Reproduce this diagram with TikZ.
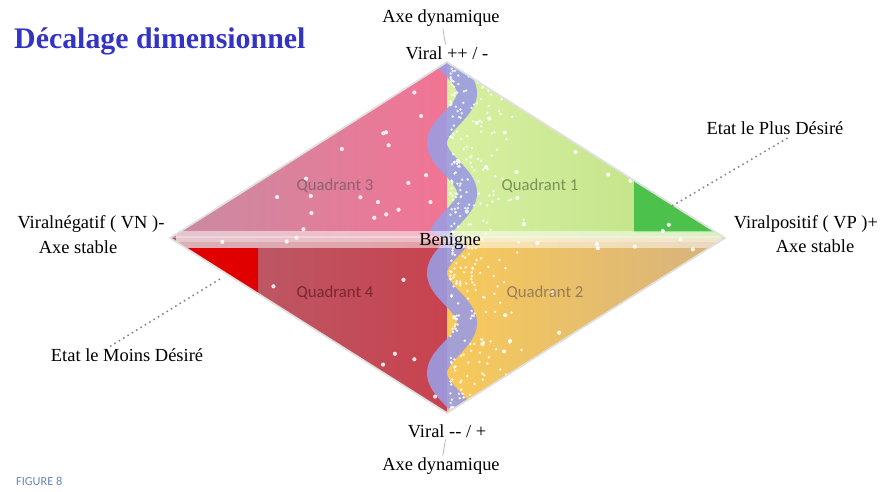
\documentclass[tikz,border=0pt]{standalone}
\usepackage{fontspec}
\setmainfont{Liberation Serif}
\newfontfamily\quadfont{Carlito}
\usepackage{tikz}
\usepackage{xcolor}
\usetikzlibrary{positioning, calc}
\definecolor{mGray}{HTML}{888888}
\definecolor{mTitle}{HTML}{3434C4}
\definecolor{mFig}{HTML}{6A86B8}
\definecolor{qThreeL}{HTML}{C88CA2}
\definecolor{qThreeR}{HTML}{F27494}
\definecolor{qOneL}{HTML}{D8F0A2}
\definecolor{qOneR}{HTML}{BCE082}
\definecolor{qFourL}{HTML}{B8606E}
\definecolor{qFourR}{HTML}{C8424E}
\definecolor{qTwoL}{HTML}{F8CA5A}
\definecolor{qTwoR}{HTML}{D6B27E}
\definecolor{mGreen}{HTML}{4CC24C}
\definecolor{mRed}{HTML}{E00000}
\definecolor{mWave}{HTML}{9C9CE2}

\begin{document}
\begin{tikzpicture}[x=0.02cm, y=-0.02cm,
  lbl/.style={font=\fontsize{10.5}{12}\selectfont, inner sep=1pt},
  quad/.style={font=\quadfont\fontsize{9.5}{11}\selectfont},
  axisline/.style={draw=mGray!70, line width=0.4pt},
  pointer/.style={draw=mGray, dotted, line width=0.9pt},
  wave/.style={draw=mWave, line width=0.4cm, opacity=0.9},
]
  \useasboundingbox (0,0) rectangle (888,491);

  \coordinate (top) at (447,62);
  \coordinate (left) at (170,238);
  \coordinate (right) at (725,238);
  \coordinate (bot) at (447,413);
  \coordinate (mid) at (447,238);

  \shade[left color=qThreeL, right color=qThreeR] (left) -- (top) -- (mid) -- cycle;
  \shade[left color=qOneL, right color=qOneR] (top) -- (right) -- (mid) -- cycle;
  \shade[left color=qFourL, right color=qFourR] (left) -- (mid) -- (bot) -- cycle;
  \shade[left color=qTwoL, right color=qTwoR] (mid) -- (right) -- (bot) -- cycle;

  \fill[mGreen] (634,180.4) -- (715.6,232) -- (634,232) -- cycle;
  \fill[mRed] (185.8,248) -- (258,248) -- (258,293.6) -- cycle;

  \begin{scope}
    \clip (top) -- (right) -- (bot) -- (left) -- cycle;
    \draw[wave] plot[domain=55:236, samples=80, variable=\t]
      ({452+15*sin(3.6*(\t-68))}, {\t});
    \draw[wave] plot[domain=240:420, samples=80, variable=\t]
      ({452+15*sin(3.6*(\t-298))}, {\t});
    \pgfmathsetseed{42}
    \foreach \i in {1,...,110}{
      \pgfmathsetmacro{\px}{175+545*rnd}
      \pgfmathsetmacro{\py}{65+345*rnd}
      \fill[white, opacity=0.85] (\px,\py) circle (1.2pt);
    }
    \foreach \i in {1,...,320}{
      \pgfmathsetmacro{\px}{450+75*rnd*rnd}
      \pgfmathsetmacro{\py}{62+352*rnd}
      \fill[white, opacity=0.8] (\px,\py) circle (0.8pt);
    }
    \fill[white, opacity=0.5] (176,231) rectangle (722,248);
    \fill[white, opacity=0.3] (176,236) rectangle (722,242);
  \end{scope}
  \draw[black!12, line width=1pt] (top) -- (right) -- (bot) -- (left) -- cycle;

  \node[quad, text=qThreeL!70!black] (q3) at (335,186) {Quadrant 3};
  \node[quad, text=qOneR!65!black] (q1) at (540,186) {Quadrant 1};
  \node[quad, text=qFourR!60!black] (q4) at (335,293) {Quadrant 4};
  \node[quad, text=qTwoR!70!black] (q2) at (545,293) {Quadrant 2};
  \node[lbl] (benigne) at (450,241) {Benigne};

  \node[anchor=west, text=mTitle, font=\bfseries\fontsize{17}{20}\selectfont] (title) at (8,41) {Décalage dimensionnel};
  \node[anchor=west, text=mFig, font=\quadfont\fontsize{7}{8}\selectfont] (fig) at (10,481) {FIGURE 8};

  \node[lbl] (axtop) at (441,18) {Axe dynamique};
  \node[lbl] (viraltop) at (447,53) {Viral ++ / -};
  \node[lbl] (viralbot) at (447,431) {Viral -{}- / +};
  \node[lbl] (axbot) at (441,466) {Axe dynamique};
  \node[lbl] (vn) at (91,224) {Viralnégatif ( VN )-};
  \node[lbl] (stl) at (78,247) {Axe stable};
  \node[lbl] (vp) at (806,224) {Viralpositif ( VP )+};
  \node[lbl] (str) at (815,246) {Axe stable};
  \node[lbl] (plus) at (775,128) {Etat le Plus Désiré};
  \node[lbl] (moins) at (127,355) {Etat le Moins Désiré};

  \coordinate (greenspot) at (672,206);
  \coordinate (redspot) at (220,279);
  \draw[axisline] (axtop) -- (viraltop);
  \draw[axisline] (viralbot) -- (axbot);
  \draw[pointer] (greenspot) -- ($(plus.south)+(15,0)$);
  \draw[pointer] (redspot) -- ($(moins.north)+(-17,0)$);
\end{tikzpicture}
\end{document}
